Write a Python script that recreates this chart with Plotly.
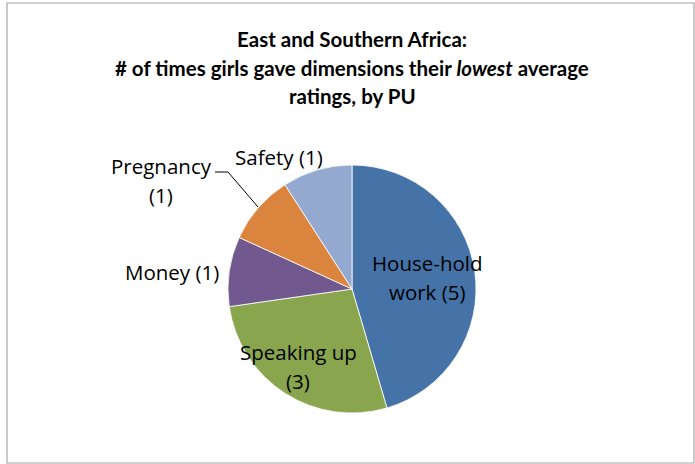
import plotly.graph_objects as go

categories = ["House-hold work", "Speaking up", "Money", "Pregnancy", "Safety"]
values = [5, 3, 1, 1, 1]
colors = ["#4572A7", "#89A54E", "#71588F", "#DB843D", "#93A9CF"]
label_lines = [["House-hold", "work (5)"], ["Speaking up", "(3)"], ["Money (1)"], ["Pregnancy", "(1)"], ["Safety (1)"]]
title_lines = ["East and Southern Africa:",
               "# of times girls gave dimensions their <i>lowest</i> average",
               "ratings, by PU"]

W, H = 695, 464
TITLE_FONT = "Lato, 'Liberation Sans', sans-serif"
LABEL_FONT = "'Open Sans', 'Liberation Sans', sans-serif"

cx, cy, r = 352, 289, 124

fig = go.Figure(go.Pie(
    labels=categories, values=values, sort=False, direction="clockwise", rotation=0,
    marker=dict(colors=colors, line=dict(color="white", width=0.8)),
    textinfo="none", hoverinfo="label+value", showlegend=False,
    domain=dict(x=[(cx - r) / W, (cx + r) / W], y=[(H - cy - r) / H, (H - cy + r) / H]),
))

def px(x):
    return x / W

def py(y):
    return 1 - y / H

annotations = []
for yy, t in zip([39, 68, 96], title_lines):
    annotations.append(dict(x=px(352), y=py(yy), xref="paper", yref="paper", text="<b>" + t + "</b>",
                            showarrow=False, font=dict(family=TITLE_FONT, size=20.5, color="black"),
                            xanchor="center", yanchor="middle"))

label_pos = [(427, 263), (298, 352), (172, 272), (161, 166), (279, 157)]
LINE_GAP = 29
for (x, y), lines in zip(label_pos, label_lines):
    for i, ln in enumerate(lines):
        annotations.append(dict(x=px(x), y=py(y + i * LINE_GAP), xref="paper", yref="paper", text=ln,
                                showarrow=False, font=dict(family=LABEL_FONT, size=20.5, color="black"),
                                xanchor="center", yanchor="middle", align="center"))

shapes = [
    dict(type="rect", xref="paper", yref="paper", x0=px(7), x1=px(694), y0=py(463), y1=py(3),
         line=dict(color="#A6A6A6", width=1.2)),
    dict(type="path", xref="paper", yref="paper",
         path=f"M {px(215)} {py(172)} L {px(228)} {py(172)} L {px(258)} {py(207)}",
         line=dict(color="black", width=1)),
]

fig.update_layout(width=W, height=H, margin=dict(l=0, r=0, t=0, b=0),
                  paper_bgcolor="white", plot_bgcolor="white",
                  annotations=annotations, shapes=shapes)
fig.write_html("out.html", config={"displayModeBar": False},
               post_script="document.body.style.margin='0';document.body.style.overflow='hidden';")
